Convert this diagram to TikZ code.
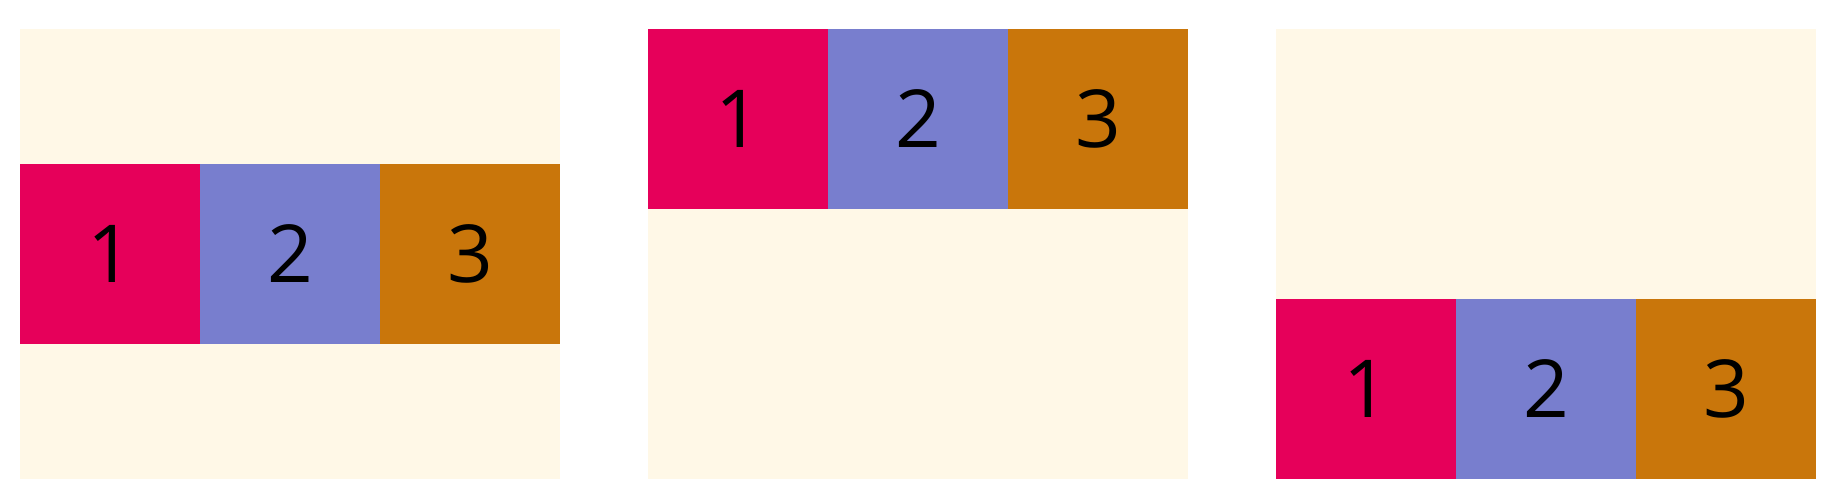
\documentclass[tikz,border=0pt]{standalone}
\usepackage{fontspec}
\setmainfont{Open Sans}
\usepackage{xcolor}
\usepackage{tikz}
\usetikzlibrary{positioning}
\definecolor{creambg}{HTML}{FFF8E7}
\definecolor{itemred}{HTML}{E6005A}
\definecolor{itemblue}{HTML}{787ECE}
\definecolor{itemorange}{HTML}{C9760B}

\begin{document}
\begin{tikzpicture}[x=1pt, y=1pt,
          panel/.style={rectangle, fill=creambg, inner sep=0pt, outer sep=0pt,
                        minimum width=540pt, minimum height=450pt},
          item/.style={rectangle, inner sep=0pt, outer sep=0pt, minimum size=180pt,
                       font=\fontsize{80}{96}\selectfont},
          node distance=0pt
        ]
        \useasboundingbox (0,0) rectangle (1838,490);
        % three containers
        \node[panel] (centerbox) at (290,236) {};
        \node[panel] (startbox) at (918,236) {};
        \node[panel] (endbox) at (1546,236) {};
        % items centred vertically
        \node[item, fill=itemred, anchor=west] (c1) at (centerbox.west) {1};
        \node[item, fill=itemblue, right=of c1] (c2) {2};
        \node[item, fill=itemorange, right=of c2] (c3) {3};
        % items at the start
        \node[item, fill=itemred, anchor=north west] (s1) at (startbox.north west) {1};
        \node[item, fill=itemblue, right=of s1] (s2) {2};
        \node[item, fill=itemorange, right=of s2] (s3) {3};
        % items at the end
        \node[item, fill=itemred, anchor=south west] (e1) at (endbox.south west) {1};
        \node[item, fill=itemblue, right=of e1] (e2) {2};
        \node[item, fill=itemorange, right=of e2] (e3) {3};
      \end{tikzpicture}
\end{document}
